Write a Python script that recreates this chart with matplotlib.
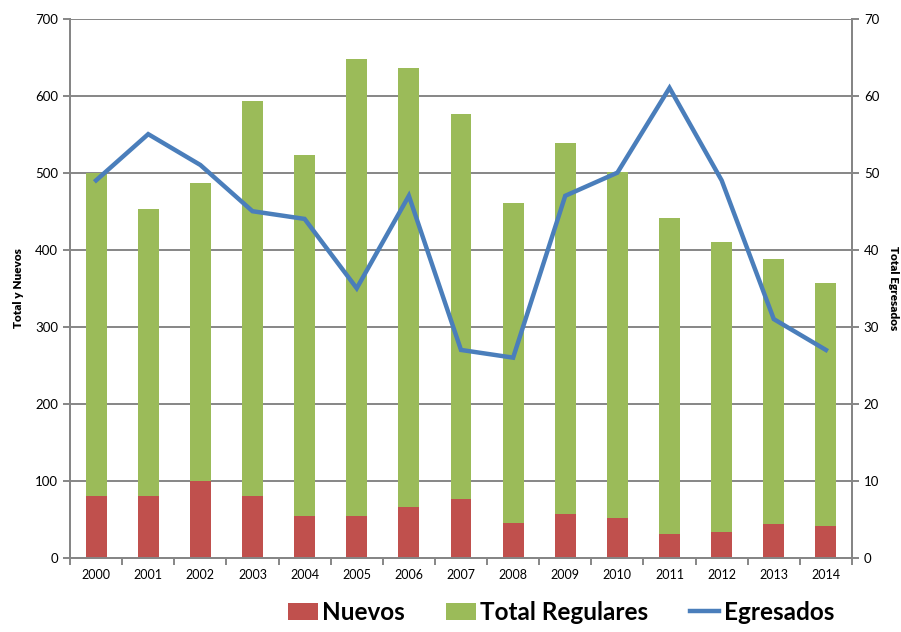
import numpy as np
import matplotlib.pyplot as plt

years = ["2000", "2001", "2002", "2003", "2004", "2005", "2006", "2007",
         "2008", "2009", "2010", "2011", "2012", "2013", "2014"]
total_regulares = [500, 453, 486, 593, 523, 648, 636, 576, 461, 538, 501, 441, 410, 388, 357]
nuevos = [80, 80, 100, 81, 54, 55, 66, 76, 45, 57, 52, 31, 34, 44, 41]
egresados = [49, 55, 51, 45, 44, 35, 47, 27, 26, 47, 50, 61, 49, 31, 27]

GRAY = "#868686"
plt.rcParams['font.family'] = ['Lato', 'DejaVu Sans']


def main():
    fig = plt.figure(figsize=(9.01, 6.32), dpi=100)
    ax = fig.add_axes([0.0777, 0.117, 0.8679, 0.8537])
    ax2 = ax.twinx()

    x = np.arange(len(years))
    w = 0.4
    b1 = ax.bar(x, total_regulares, w, color="#9BBB59", label="Total Regulares", zorder=2)
    b2 = ax.bar(x, nuevos, w, color="#C0504D", label="Nuevos", zorder=3)
    l1, = ax2.plot(x, egresados, color="#4A7EBB", lw=3.2, label="Egresados",
                   solid_joinstyle="miter")

    ax.set_xlim(-0.5, len(years) - 0.5)
    ax.set_ylim(0, 700)
    ax.set_yticks(range(0, 701, 100))
    ax2.set_ylim(0, 70)
    ax2.set_yticks(range(0, 71, 10))

    ax.yaxis.grid(True, color=GRAY, lw=1.4, zorder=0)
    ax.set_axisbelow(True)

    ax.set_xticks(x)
    ax.set_xticklabels(years)
    ax.set_xticks(np.arange(-0.5, len(years), 1), minor=True)
    ax.tick_params(axis="x", which="major", length=0, labelsize=9, pad=8)
    ax.tick_params(axis="x", which="minor", length=5, width=1.4, color=GRAY)
    ax.tick_params(axis="y", length=5, width=1.4, color=GRAY, labelsize=9.5)
    ax2.tick_params(axis="y", length=5, width=1.4, color=GRAY, labelsize=9.5)

    for a in (ax, ax2):
        a.spines["top"].set_visible(False)
        for s in ("left", "right", "bottom"):
            a.spines[s].set_color(GRAY)
            a.spines[s].set_linewidth(1.4)

    ax.set_ylabel("Total y Nuevos", fontsize=8.5, fontweight="heavy", labelpad=8)
    ax2.set_ylabel("Total Egresados", fontsize=8.5, fontweight="heavy",
                   rotation=270, labelpad=14)

    fig.legend([b2, b1, l1], ["Nuevos", "Total Regulares", "Egresados"],
               loc="lower center", bbox_to_anchor=(0.623, -0.006), ncol=3,
               frameon=False, prop={"size": 17.5, "weight": "bold"},
               handlelength=1.2, handleheight=0.7, handletextpad=0.2,
               columnspacing=1.7, borderpad=0)

    fig.savefig("out.png", dpi=100)


if __name__ == "__main__":
    main()
